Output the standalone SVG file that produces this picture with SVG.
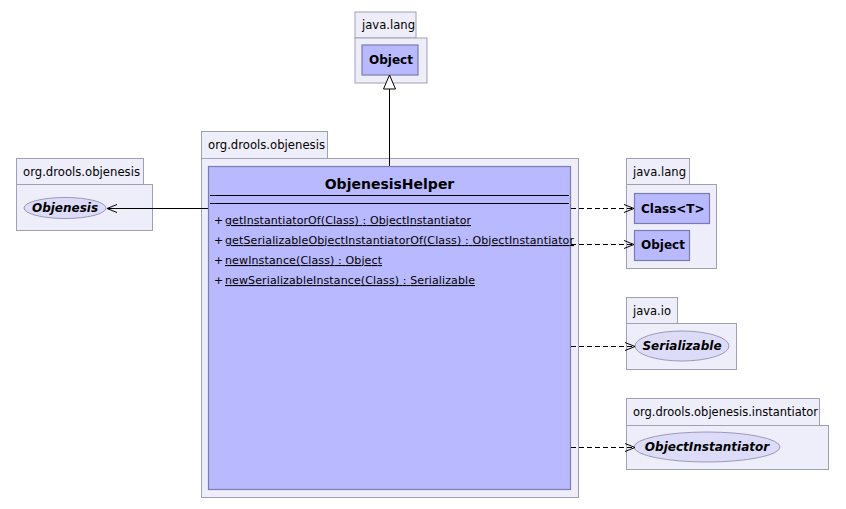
<svg xmlns="http://www.w3.org/2000/svg" width="846" height="509" viewBox="0 0 846 509">
<defs>
<style>
.pkg{fill:#eeeefa;stroke:#a0a0b4;stroke-width:1}
.cls{fill:#b9b9ff;stroke:#7c7cac;stroke-width:1.2}
.ell{fill:#dcdcf8;stroke:#9a9ab8;stroke-width:1}
.tab{font-family:"DejaVu Sans",sans-serif;font-size:12px;fill:#000}
.bn{font-family:"DejaVu Sans",sans-serif;font-size:12px;font-weight:bold;fill:#000}
.bi{font-family:"DejaVu Sans",sans-serif;font-size:12px;font-weight:bold;font-style:italic;fill:#000;text-anchor:middle}
.m{font-family:"DejaVu Sans",sans-serif;font-size:11px;fill:#000}
.u{text-decoration:underline}
.ln{stroke:#000;stroke-width:1;fill:none}
.dash{stroke:#000;stroke-width:1;fill:none;stroke-dasharray:5,3}
</style>
<marker id="open" markerWidth="12" markerHeight="10" refX="11" refY="5" orient="auto" markerUnits="userSpaceOnUse">
<path d="M1,1 L11,5 L1,9" fill="none" stroke="#000" stroke-width="1"/>
</marker>
<marker id="tri" markerWidth="14" markerHeight="16" refX="7" refY="1" orient="0" markerUnits="userSpaceOnUse">
<path d="M7,1 L13,15 L1,15 Z" fill="#fff" stroke="#000" stroke-width="1"/>
</marker>
</defs>

<g id="pkg-java-lang-top">
<rect class="pkg" x="355" y="12" width="61" height="26"/>
<rect class="pkg" x="355" y="38" width="72" height="45"/>
<text class="tab" x="362" y="29" textLength="53" lengthAdjust="spacingAndGlyphs">java.lang</text>
<g id="Object-top">
<rect class="cls" x="362" y="45" width="56" height="30"/>
<text class="bn" x="369" y="64">Object</text>
</g>
</g>

<g id="pkg-objenesis-left">
<rect class="pkg" x="16.5" y="158.5" width="127" height="26"/>
<rect class="pkg" x="16.5" y="184.5" width="136" height="46"/>
<text class="tab" x="23" y="176" textLength="117" lengthAdjust="spacingAndGlyphs">org.drools.objenesis</text>
<g id="Objenesis">
<ellipse class="ell" cx="65" cy="208" rx="41" ry="10.5"/>
<text class="bi" x="65" y="212">Objenesis</text>
</g>
</g>

<g id="pkg-objenesis-main">
<rect class="pkg" x="201.5" y="131.5" width="126" height="27"/>
<rect class="pkg" x="201.5" y="158.5" width="377" height="339"/>
<text class="tab" x="208" y="149" textLength="117" lengthAdjust="spacingAndGlyphs">org.drools.objenesis</text>
<g id="ObjenesisHelper">
<rect class="cls" x="208.5" y="166.5" width="362" height="323"/>
<text x="389.5" y="189" font-family="DejaVu Sans, sans-serif" font-size="14" font-weight="bold" text-anchor="middle">ObjenesisHelper</text>
<line class="ln" x1="210" y1="195.5" x2="569" y2="195.5"/>
<line class="ln" x1="210" y1="203.5" x2="569" y2="203.5"/>
<text class="m" x="214" y="224">+</text><text class="m u" x="225" y="224" textLength="246" lengthAdjust="spacing">getInstantiatorOf(Class) : ObjectInstantiator</text>
<text class="m" x="214" y="244">+</text><text class="m u" x="225" y="244" textLength="349" lengthAdjust="spacing">getSerializableObjectInstantiatorOf(Class) : ObjectInstantiator</text>
<text class="m" x="214" y="264">+</text><text class="m u" x="225" y="264" textLength="157" lengthAdjust="spacing">newInstance(Class) : Object</text>
<text class="m" x="214" y="284">+</text><text class="m u" x="225" y="284" textLength="250" lengthAdjust="spacing">newSerializableInstance(Class) : Serializable</text>
</g>
</g>

<g id="pkg-java-lang-right">
<rect class="pkg" x="626.5" y="158.5" width="63" height="26"/>
<rect class="pkg" x="626.5" y="184.5" width="90" height="84"/>
<text class="tab" x="633" y="176" textLength="53" lengthAdjust="spacingAndGlyphs">java.lang</text>
<g id="ClassT">
<rect class="cls" x="634.5" y="193.5" width="75" height="30"/>
<text class="bn" x="641" y="213">Class&lt;T&gt;</text>
</g>
<g id="Object-right">
<rect class="cls" x="634.5" y="230.5" width="55" height="30"/>
<text class="bn" x="641" y="249">Object</text>
</g>
</g>

<g id="pkg-java-io">
<rect class="pkg" x="626.5" y="297.5" width="51" height="26"/>
<rect class="pkg" x="626.5" y="323.5" width="110" height="46"/>
<text class="tab" x="633" y="315" textLength="38" lengthAdjust="spacingAndGlyphs">java.io</text>
<g id="Serializable">
<ellipse class="ell" cx="682" cy="346" rx="47" ry="15"/>
<text class="bi" x="682" y="350">Serializable</text>
</g>
</g>

<g id="pkg-instantiator">
<rect class="pkg" x="626.5" y="398.5" width="193" height="27"/>
<rect class="pkg" x="626.5" y="425.5" width="202" height="44"/>
<text class="tab" x="633" y="416" textLength="185" lengthAdjust="spacingAndGlyphs">org.drools.objenesis.instantiator</text>
<g id="ObjectInstantiator">
<ellipse class="ell" cx="707" cy="447" rx="73" ry="15"/>
<text class="bi" x="707" y="451">ObjectInstantiator</text>
</g>
</g>

<g id="connectors">
<line class="ln" x1="389.5" y1="166" x2="389.5" y2="75" marker-end="url(#tri)"/>
<line class="ln" x1="208" y1="208.5" x2="107" y2="208.5" marker-end="url(#open)"/>
<line class="dash" x1="571" y1="208.5" x2="634" y2="208.5" marker-end="url(#open)"/>
<line class="dash" x1="571" y1="244.5" x2="634" y2="244.5" marker-end="url(#open)"/>
<line class="dash" x1="571" y1="346.5" x2="635" y2="346.5" marker-end="url(#open)"/>
<line class="dash" x1="571" y1="447.5" x2="635" y2="447.5" marker-end="url(#open)"/>
</g>
</svg>
